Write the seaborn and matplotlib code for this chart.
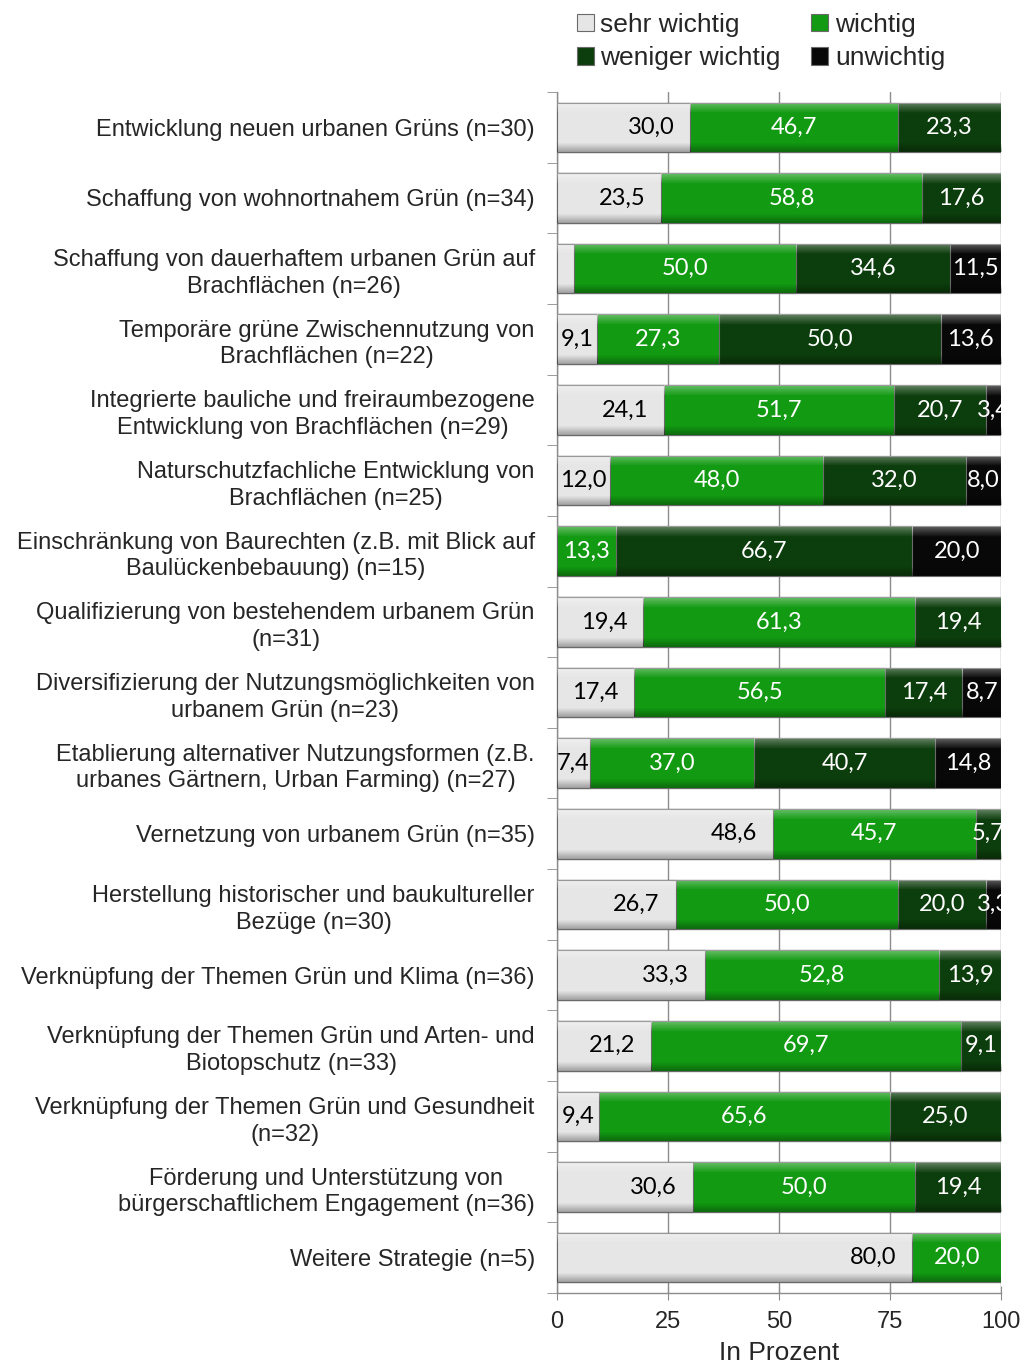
import numpy as np
import pandas as pd
import matplotlib
matplotlib.use("Agg")
import matplotlib.pyplot as plt
import seaborn as sns
from matplotlib.patches import Patch, Rectangle

categories = [
    "Entwicklung neuen urbanen Grüns (n=30)",
    "Schaffung von wohnortnahem Grün (n=34)",
    "Schaffung von dauerhaftem urbanen Grün auf\nBrachflächen (n=26)",
    "Temporäre grüne Zwischennutzung von\nBrachflächen (n=22)",
    "Integrierte bauliche und freiraumbezogene\nEntwicklung von Brachflächen (n=29)",
    "Naturschutzfachliche Entwicklung von\nBrachflächen (n=25)",
    "Einschränkung von Baurechten (z.B. mit Blick auf\nBaulückenbebauung) (n=15)",
    "Qualifizierung von bestehendem urbanem Grün\n(n=31)",
    "Diversifizierung der Nutzungsmöglichkeiten von\nurbanem Grün (n=23)",
    "Etablierung alternativer Nutzungsformen (z.B.\nurbanes Gärtnern, Urban Farming) (n=27)",
    "Vernetzung von urbanem Grün (n=35)",
    "Herstellung historischer und baukultureller\nBezüge (n=30)",
    "Verknüpfung der Themen Grün und Klima (n=36)",
    "Verknüpfung der Themen Grün und Arten- und\nBiotopschutz (n=33)",
    "Verknüpfung der Themen Grün und Gesundheit\n(n=32)",
    "Förderung und Unterstützung von\nbürgerschaftlichem Engagement (n=36)",
    "Weitere Strategie (n=5)",
]

sehr_wichtig    = [30.0, 23.5, 3.8, 9.1, 24.1, 12.0, 0.0, 19.4, 17.4, 7.4, 48.6, 26.7, 33.3, 21.2, 9.4, 30.6, 80.0]
wichtig         = [46.7, 58.8, 50.0, 27.3, 51.7, 48.0, 13.3, 61.3, 56.5, 37.0, 45.7, 50.0, 52.8, 69.7, 65.6, 50.0, 20.0]
weniger_wichtig = [23.3, 17.6, 34.6, 50.0, 20.7, 32.0, 66.7, 19.4, 17.4, 40.7, 5.7, 20.0, 13.9, 9.1, 25.0, 19.4, 0.0]
unwichtig       = [0.0, 0.0, 11.5, 13.6, 3.4, 8.0, 20.0, 0.0, 8.7, 14.8, 0.0, 3.3, 0.0, 0.0, 0.0, 0.0, 0.0]

series_names = ["sehr wichtig", "wichtig", "weniger wichtig", "unwichtig"]
colors = ["#e6e6e6", "#129a12", "#0c3d0c", "#080808"]

df = pd.DataFrame({
    "sehr wichtig": sehr_wichtig,
    "wichtig": wichtig,
    "weniger wichtig": weniger_wichtig,
    "unwichtig": unwichtig,
})
cum = df.cumsum(axis=1)

sns.set_style("white")
plt.rcParams["font.family"] = ["Liberation Sans", "DejaVu Sans"]

fig = plt.figure(figsize=(10.24, 13.64), dpi=100)
ax = fig.add_axes([0.544, 0.052, 0.4336, 0.8806])

bar_w = 0.7
# stacked bars: draw cumulative totals from the right-most series backwards
for name, col in reversed(list(zip(series_names, colors))):
    d = pd.DataFrame({"Strategie": categories, "wert": cum[name].values})
    sns.barplot(data=d, x="wert", y="Strategie", orient="h", color=col,
                saturation=1, width=bar_w, edgecolor="#6a6a6a", linewidth=0.8,
                ax=ax, zorder=3)

ax.set_xlim(0, 100)
ax.set_ylim(16.5, -0.5)

# soft bevel look: light rim on top, shade at the bottom of each segment
n = 60
t = np.linspace(0, 1, n)
grad = np.zeros((n, 1, 4))
top = np.clip(1 - t / 0.22, 0, 1)
bot = np.clip((t - 0.82) / 0.18, 0, 1)
grad[:, 0, :3] = np.where(top[:, None] > 0, 1.0, 0.0)
grad[:, 0, 3] = 0.35 * top + 0.30 * bot
for i in range(len(categories)):
    left = 0.0
    for name in series_names:
        v = df.loc[i, name]
        if v > 0:
            y0 = i - bar_w / 2
            clip = Rectangle((left, y0), v, bar_w, transform=ax.transData)
            im = ax.imshow(grad, extent=(left, left + v, y0 + bar_w, y0),
                           origin="upper", aspect="auto", zorder=4,
                           interpolation="bilinear")
            im.set_clip_path(clip)
        left += v
ax.set_xlim(0, 100)
ax.set_ylim(16.5, -0.5)

def fmt(v):
    return f"{v:.1f}".replace(".", ",")

lab_fs = 17
for i in range(len(categories)):
    left = 0.0
    for j, name in enumerate(series_names):
        v = df.loc[i, name]
        if v <= 0:
            continue
        if j == 0:
            if v >= 15:
                ax.text(left + v - 3.6, i, fmt(v), ha="right", va="center",
                        color="black", fontsize=lab_fs, family="Lato", zorder=5)
            elif v >= 5:
                ax.text(left + v / 2, i, fmt(v), ha="center", va="center",
                        color="black", fontsize=lab_fs, family="Lato", zorder=5)
        else:
            ax.text(left + v / 2, i, fmt(v), ha="center", va="center",
                    color="white", fontsize=lab_fs, family="Lato", zorder=5,
                    clip_on=True)
        left += v

ax.set_xticks([0, 25, 50, 75, 100])
ax.xaxis.grid(True, color="#8c8c8c", linewidth=1, zorder=0)
ax.yaxis.grid(False)
ax.set_axisbelow(True)

for s in ["top", "right"]:
    ax.spines[s].set_visible(False)
for s in ["left", "bottom"]:
    ax.spines[s].set_color("#8c8c8c")
    ax.spines[s].set_linewidth(1)

ax.set_ylabel("")
ax.set_xlabel("In Prozent", fontsize=19, labelpad=6)
ax.tick_params(axis="y", which="major", length=0, pad=16, labelsize=17, left=False)
ax.set_yticks(np.arange(-0.5, 17, 1), minor=True)
ax.tick_params(axis="y", which="minor", length=7, color="#8c8c8c", left=True)
ax.tick_params(axis="x", direction="inout", length=10, color="#8c8c8c",
               labelsize=17, pad=8, bottom=True)
for tl in ax.get_yticklabels():
    tl.set_multialignment("center")
    tl.set_linespacing(1.28)
    tl.set_y(tl.get_position()[1])

handles = [Patch(facecolor=c, edgecolor="#6a6a6a", linewidth=0.8) for c in colors]
order = [0, 2, 1, 3]
fig.legend([handles[k] for k in order], [series_names[k] for k in order],
           ncol=2, loc="upper left", bbox_to_anchor=(0.540, 1.008),
           frameon=False, fontsize=19, handlelength=0.65, handleheight=0.65,
           handletextpad=0.25, columnspacing=1.15, labelspacing=0.35)

fig.savefig("out.png", dpi=100)
